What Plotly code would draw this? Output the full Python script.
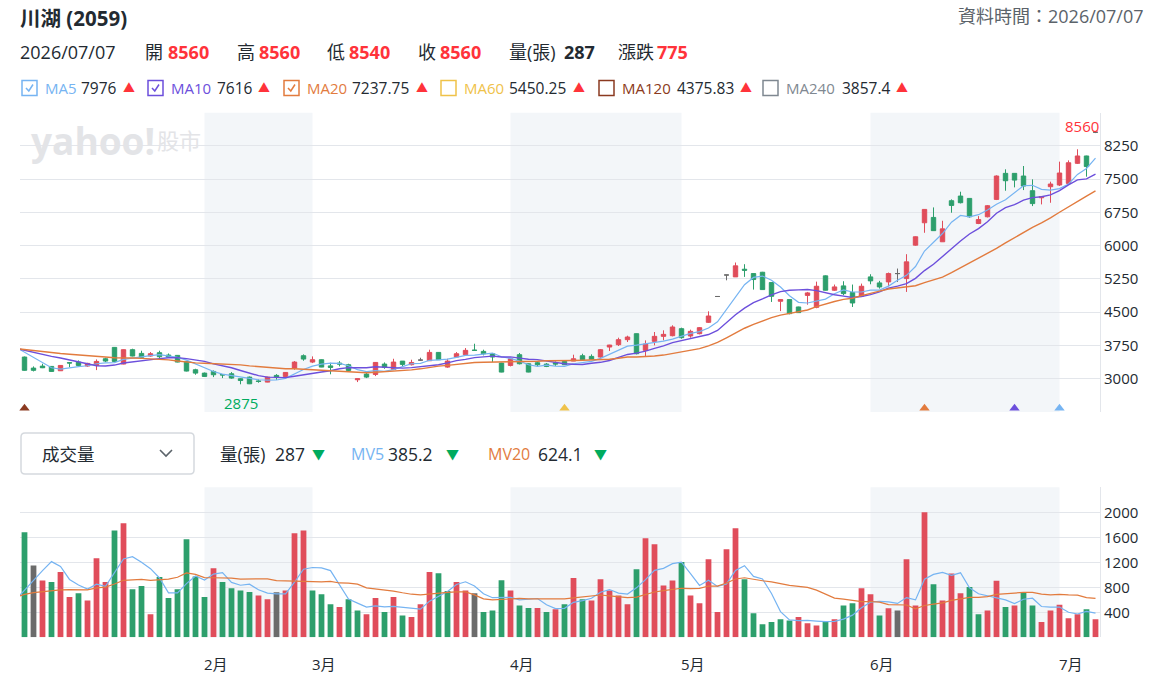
import plotly.graph_objects as go
import pandas as pd
import numpy as np

# ---------------- data ----------------
bars_per_month = [20, 12, 22, 19, 21, 21, 5]          # Jan..Jul 2026 trading days shown
month_labels = ['1月', '2月', '3月', '4月', '5月', '6月', '7月']

open_ = [3489, 3240, 3285, 3278, 3180, 3362, 3376, 3286, 3300, 3451,
         3707, 3331, 3655, 3572, 3512, 3587, 3535, 3527, 3391, 3203,
         3127, 3165, 3095, 3112, 3000, 3037, 2950, 2924, 3075, 3052,
         3240, 3519, 3376, 3429, 3290, 3353, 3316, 2977, 3105, 3097,
         3331, 3210, 3398, 3316, 3421, 3406, 3594, 3263, 3489, 3542,
         3645, 3617, 3564, 3353, 3300, 3542, 3338, 3361, 3331, 3360,
         3390, 3399, 3519, 3504, 3489, 3715, 3768, 3881, 4016, 3640,
         3843, 3956, 3971, 4129, 3964, 4016, 4272, 4855, 5340, 5297,
         5470, 5372, 5402, 5169, 4747, 4785, 4619, 4880, 4610, 5320,
         4996, 5094, 4943, 4860, 5297, 5161, 5184, 5372, 5259, 6013,
         6518, 6638, 6089, 7015, 7120, 7067, 6502, 6653, 7045, 7632,
         7632, 7572, 7241, 7082, 7331, 7369, 7406, 7858, 8024, 8560]
high = [3500, 3278, 3338, 3285, 3310, 3365, 3414, 3360, 3436, 3474,
        3715, 3660, 3677, 3632, 3602, 3632, 3570, 3535, 3400, 3225,
        3140, 3188, 3095, 3150, 3010, 3050, 2985, 3045, 3105, 3150,
        3398, 3549, 3504, 3436, 3360, 3398, 3338, 3000, 3142, 3376,
        3368, 3451, 3400, 3429, 3474, 3655, 3600, 3451, 3602, 3692,
        3790, 3655, 3570, 3360, 3455, 3580, 3345, 3398, 3353, 3390,
        3400, 3542, 3564, 3550, 3670, 3765, 3926, 3971, 4020, 3866,
        4054, 4092, 4205, 4152, 4107, 4167, 4521, 4855, 5340, 5621,
        5583, 5372, 5410, 5169, 4790, 4790, 4625, 4958, 5190, 5330,
        5124, 5199, 5124, 5146, 5357, 5207, 5395, 5485, 5809, 6210,
        6820, 6864, 6563, 7045, 7218, 7070, 6668, 6917, 7587, 7723,
        7635, 7798, 7497, 7120, 7444, 7896, 7925, 8175, 8030, 8560]
low = [3180, 3165, 3240, 3160, 3175, 3262, 3286, 3270, 3195, 3376,
       3385, 3325, 3505, 3451, 3497, 3467, 3480, 3370, 3165, 3090,
       3040, 3037, 3015, 3000, 2875, 2880, 2910, 2920, 2975, 3045,
       3203, 3406, 3353, 3260, 3100, 3278, 3165, 2925, 3015, 3060,
       3225, 3195, 3286, 3300, 3406, 3400, 3425, 3248, 3474, 3527,
       3635, 3527, 3376, 3145, 3278, 3323, 3145, 3278, 3263, 3290,
       3310, 3398, 3425, 3429, 3474, 3625, 3738, 3828, 3550, 3504,
       3753, 3866, 3956, 3903, 3926, 4001, 4257, 4855, 5220, 5297,
       5297, 5011, 5005, 4732, 4525, 4453, 4485, 4670, 4590, 4990,
       4981, 4883, 4619, 4845, 5131, 5033, 5086, 5184, 4958, 6000,
       6292, 6335, 6085, 6744, 6954, 6630, 6487, 6638, 7030, 7240,
       7316, 7255, 6894, 6932, 6969, 7346, 7400, 7843, 7557, 8540]
close = [3190, 3190, 3248, 3165, 3300, 3355, 3300, 3346, 3391, 3399,
         3391, 3655, 3512, 3482, 3565, 3497, 3490, 3376, 3173, 3127,
         3052, 3090, 3085, 3015, 2960, 2886, 2940, 3037, 3037, 3142,
         3376, 3444, 3429, 3263, 3255, 3331, 3188, 2999, 3037, 3368,
         3255, 3376, 3323, 3368, 3421, 3594, 3429, 3398, 3564, 3640,
         3640, 3564, 3489, 3150, 3451, 3338, 3150, 3316, 3278, 3330,
         3316, 3451, 3430, 3440, 3655, 3760, 3881, 3941, 3564, 3783,
         3956, 4001, 4167, 3926, 4069, 4152, 4415, 4855, 5340, 5546,
         5447, 5237, 5011, 4860, 4785, 4468, 4491, 4936, 5086, 4996,
         5071, 4920, 4709, 5086, 5207, 5071, 5372, 5372, 5636, 6202,
         6819, 6340, 6380, 6909, 6970, 6653, 6590, 6902, 7572, 7466,
         7480, 7346, 6950, 7110, 7391, 7640, 7871, 8024, 7785, 8560]
volume = [1680, 1147, 907, 885, 1045, 645, 704, 587, 1264, 885,
          1707, 1824, 768, 821, 368, 965, 629, 768, 1568, 971,
          645, 1104, 885, 784, 747, 725, 667, 608, 720, 747,
          1664, 1707, 747, 688, 528, 485, 608, 427, 368, 629,
          405, 645, 347, 325, 528, 1045, 1024, 741, 885, 747,
          704, 405, 427, 912, 747, 507, 469, 469, 405, 448,
          528, 949, 608, 587, 928, 747, 667, 528, 1088, 1584,
          1488, 827, 907, 1205, 667, 544, 1248, 405, 1408, 1744,
          928, 384, 208, 245, 288, 267, 325, 224, 187, 245,
          288, 507, 544, 784, 688, 347, 464, 427, 1248, 507,
          2000, 848, 587, 1020, 704, 805, 368, 427, 905, 485,
          507, 720, 507, 245, 427, 520, 304, 368, 448, 287]
# sessions before the window (needed to seed the moving averages)
prior_close = [3700, 3620, 3650, 3700, 3680, 3640, 3690, 3720, 3660, 3650,
               3690, 3620, 3680, 3650, 3685, 3790, 3755, 3853, 3730, 3447]
prior_volume = [700, 620, 580, 700, 690, 560, 640, 720, 610, 650,
                700, 640, 610, 690, 675, 880, 347, 157, 165, 1436]

price_ma_periods = [5, 10, 20]
vol_ma_periods = [5, 20]
legend_names = ['MA5', 'MA10', 'MA20', 'MA60', 'MA120', 'MA240']
legend_values = ['7976', '7616', '7237.75', '5450.25', '4375.83', '3857.4']
legend_checked = [True, True, True, False, False, False]
legend_periods = [5, 10, 20, 60, 120, 240]

# ---------------- styling ----------------
W, H = 1152, 691
FONT = 'Open Sans, Noto Sans CJK TC, sans-serif'
TXT = '#232a31'
RED_T = '#ff333a'
GRN_T = '#00ab5e'
UP = '#e04d5b'
DN = '#2d9f6c'
FLAT = '#6b6b6b'
GRID = '#e3e6eb'
BAND = '#f3f6f9'
MA_COL = {'MA5': '#76b4f2', 'MA10': '#6c4fdc', 'MA20': '#e27b3e',
          'MA60': '#efc24a', 'MA120': '#8b3a20', 'MA240': '#7f8891'}

def px(x):
    return x / W

def py(y):
    return 1 - y / H

N = len(close)
idx = np.arange(N)
X0, X1 = 20, 1100
P_TOP, P_BOT = 112.7, 412.0
V_TOP, V_BOT = 487.3, 637.3

fig = go.Figure()

o = np.array(open_); c = np.array(close); h = np.array(high); l = np.array(low)
groups = [(c > o, UP), (c < o, DN), (c == o, FLAT)]
for mask, col in groups:
    fig.add_trace(go.Candlestick(
        x=idx[mask], open=o[mask], high=h[mask], low=l[mask], close=c[mask],
        increasing=dict(line=dict(color=col, width=1), fillcolor=col),
        decreasing=dict(line=dict(color=col, width=1), fillcolor=col),
        whiskerwidth=0, hoverinfo='skip', showlegend=False, xaxis='x', yaxis='y'))

# moving averages (computed on the extended series, drawn from one bar before the window)
c_all = pd.Series(prior_close + close, dtype=float)
v_all = pd.Series(prior_volume + volume, dtype=float)
x_all = np.arange(-len(prior_close), N)
keep = x_all >= -1
for p in price_ma_periods:
    name = f'MA{p}'
    ma = c_all.rolling(p).mean().values
    fig.add_trace(go.Scatter(x=x_all[keep], y=ma[keep], mode='lines',
                             line=dict(color=MA_COL[name], width=1.4 if p > 5 else 1.2),
                             hoverinfo='skip', showlegend=False, xaxis='x', yaxis='y'))

# window-start markers for the moving averages
tri_x, tri_c = [], []
for name, p in zip(legend_names, legend_periods):
    if N - p >= 0:
        tri_x.append(N - p)
        tri_c.append(MA_COL[name])
fig.add_trace(go.Scatter(x=tri_x, y=[2335] * len(tri_x), mode='markers',
                         marker=dict(symbol='triangle-up', size=9, color=tri_c),
                         hoverinfo='skip', showlegend=False, xaxis='x', yaxis='y', cliponaxis=False))

# volume bars: colour by change vs previous close
prev = np.array([prior_close[-1]] + close[:-1])
vcol = np.where(c > prev, UP, np.where(c < prev, DN, FLAT))
fig.add_trace(go.Bar(x=idx, y=volume, marker=dict(color=vcol, line=dict(width=0)), width=0.64,
                     hoverinfo='skip', showlegend=False, xaxis='x2', yaxis='y2'))
for p in vol_ma_periods:
    col = MA_COL['MA5'] if p == 5 else MA_COL['MA20']
    mv = v_all.rolling(p).mean().values
    fig.add_trace(go.Scatter(x=x_all[keep], y=mv[keep], mode='lines', line=dict(color=col, width=1.2),
                             hoverinfo='skip', showlegend=False, xaxis='x2', yaxis='y2'))

# month bands + labels
starts = np.cumsum([0] + bars_per_month[:-1])
shapes = []
for k in range(1, len(bars_per_month)):
    s = starts[k]
    e = starts[k + 1] if k + 1 < len(starts) else None
    if k % 2 == 1 and e is not None:
        for xr, yr in [('x', 'y domain'), ('x2', 'y2 domain')]:
            shapes.append(dict(type='rect', xref=xr, yref=yr, x0=s, x1=e, y0=0, y1=1,
                               fillcolor=BAND, line=dict(width=0), layer='below'))
annotations = []
for k in range(1, len(bars_per_month)):
    annotations.append(dict(x=starts[k], y=py(664), xref='x2', yref='paper', text=month_labels[k],
                            showarrow=False, xanchor='left', yanchor='middle', xshift=-3,
                            font=dict(size=15, color=TXT, family=FONT)))

# extreme labels
imax = int(np.argmax(h)); imin = int(np.argmin(l))
annotations.append(dict(x=imax, y=h[imax], xref='x', yref='y', text=str(h[imax]), showarrow=False,
                        xanchor='right', yanchor='middle', xshift=5, yshift=6,
                        font=dict(size=15, color=RED_T, family=FONT)))
annotations.append(dict(x=imin, y=l[imin], xref='x', yref='y', text=str(l[imin]), showarrow=False,
                        xanchor='center', yanchor='top', yshift=-7,
                        font=dict(size=15, color=GRN_T, family=FONT)))

def txt(x, y, s, size=16, color=TXT, anchor='left', bold=False):
    annotations.append(dict(x=px(x), y=py(y), xref='paper', yref='paper',
                            text=f'<b>{s}</b>' if bold else s, showarrow=False,
                            xanchor=anchor, yanchor='middle',
                            font=dict(size=size, color=color, family=FONT)))

# watermark
annotations.append(dict(x=px(29), y=py(140), xref='paper', yref='paper', text='<b>yahoo!</b>',
                        showarrow=False, xanchor='left', yanchor='middle',
                        font=dict(size=37, color='#e3e4e7', family='Open Sans, Liberation Sans')))
txt(155, 140, '股市', size=22, color='#e3e4e7')

# header
txt(18, 18, '川湖 (2059)', size=20.5, bold=True)
txt(1146, 16, '資料時間：2026/07/07', size=18, color='#5b636a', anchor='right')
row2 = [(18, '2026/07/07', TXT, False), (143, '開', TXT, False), (166, '8560', RED_T, True),
        (235, '高', TXT, False), (257, '8560', RED_T, True), (325, '低', TXT, False),
        (347, '8540', RED_T, True), (416, '收', TXT, False), (438, '8560', RED_T, True),
        (507, '量(張)', TXT, False), (562, '287', TXT, True), (616, '漲跌', TXT, False),
        (655, '775', RED_T, True)]
for x, s, col, b in row2:
    txt(x, 52, s, size=18, color=col, bold=b)

# MA legend with checkboxes
box_x = [22, 148, 284, 441, 599, 763]
name_x = [43, 169, 305, 462, 620, 784]
val_x = [79, 215, 350, 507, 675, 840]
tri_lx = [121, 256, 414, 571, 738, 894]
for k, name in enumerate(legend_names):
    col = MA_COL[name]
    bx = box_x[k]
    shapes.append(dict(type='rect', xref='paper', yref='paper', x0=px(bx), x1=px(bx + 15),
                       y0=py(95.5), y1=py(80.5), line=dict(color=col, width=1.5), fillcolor='white'))
    if legend_checked[k]:
        shapes.append(dict(type='path', xref='paper', yref='paper',
                           path=f'M {px(bx+4)} {py(88)} L {px(bx+6.8)} {py(91)} L {px(bx+11)} {py(84.5)}',
                           line=dict(color=col, width=1.5)))
    txt(name_x[k], 88, name, size=15, color=col)
    txt(val_x[k], 88, legend_values[k], size=15.5, color=TXT)
    txt(tri_lx[k], 88, '▲', size=12, color=RED_T)

# volume selector + header
r = 4
x0, x1, y0, y1 = 21, 194, 433, 474
path = (f'M {px(x0+r)} {py(y0)} L {px(x1-r)} {py(y0)} Q {px(x1)} {py(y0)} {px(x1)} {py(y0+r)} '
        f'L {px(x1)} {py(y1-r)} Q {px(x1)} {py(y1)} {px(x1-r)} {py(y1)} L {px(x0+r)} {py(y1)} '
        f'Q {px(x0)} {py(y1)} {px(x0)} {py(y1-r)} L {px(x0)} {py(y0+r)} Q {px(x0)} {py(y0)} {px(x0+r)} {py(y0)} Z')
shapes.append(dict(type='path', xref='paper', yref='paper', path=path,
                   line=dict(color='#d5d9de', width=1.5), fillcolor='white'))
shapes.append(dict(type='path', xref='paper', yref='paper',
                   path=f'M {px(160)} {py(450)} L {px(166)} {py(456)} L {px(172)} {py(450)}',
                   line=dict(color='#5b636a', width=1.6)))
txt(40, 453.5, '成交量', size=17.5)
vrow = [(218, '量(張)', TXT, 17.5), (273, '287', TXT, 17.5), (310, '▼', GRN_T, 13),
        (349, 'MV5', MA_COL['MA5'], 16), (386, '385.2', TXT, 17.5), (444, '▼', GRN_T, 13),
        (486, 'MV20', MA_COL['MA20'], 16), (536, '624.1', TXT, 17.5), (592, '▼', GRN_T, 13)]
for x, s, col, sz in vrow:
    txt(x, 453.5, s, size=sz, color=col)

ptick = [2250 + 750 * k for k in range(10)]
vtick = [400 * k for k in range(7)]
fig.update_layout(
    width=W, height=H, margin=dict(l=0, r=0, t=0, b=0),
    paper_bgcolor='white', plot_bgcolor='rgba(0,0,0,0)',
    showlegend=False, shapes=shapes, annotations=annotations,
    xaxis=dict(domain=[px(X0), px(X1)], range=[-0.5, N - 0.5], showticklabels=False, showgrid=False,
               zeroline=False, rangeslider=dict(visible=False), anchor='y', fixedrange=True),
    yaxis=dict(domain=[py(P_BOT), py(P_TOP)], range=[2250, 9000], side='right', tickvals=ptick,
               ticktext=['' if (v < 3000 or v > 8250) else str(v) for v in ptick],
               gridcolor=GRID, gridwidth=1, showline=True, linecolor=GRID, zeroline=False,
               ticks='', tickfont=dict(size=15, color=TXT, family='Open Sans'), anchor='x'),
    xaxis2=dict(domain=[px(X0), px(X1)], range=[-0.5, N - 0.5], showticklabels=False, showgrid=False,
                zeroline=False, anchor='y2'),
    yaxis2=dict(domain=[py(V_BOT), py(V_TOP)], range=[0, 2400], side='right', tickvals=vtick,
                ticktext=['' if (v == 0 or v == 2400) else str(v) for v in vtick],
                gridcolor=GRID, gridwidth=1, showline=True, linecolor=GRID, zeroline=False,
                ticks='', tickfont=dict(size=15, color=TXT, family='Open Sans'), anchor='x2'),
    bargap=0.4,
)
fig.write_html('out.html')
